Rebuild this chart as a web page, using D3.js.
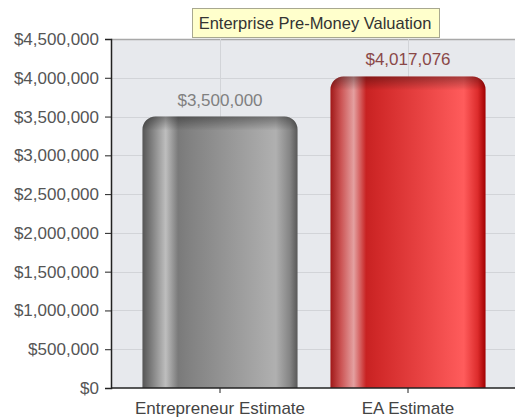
<!DOCTYPE html>
<html>
<head>
<meta charset="utf-8">
<script src="https://cdn.jsdelivr.net/npm/d3@7"></script>
<style>
  body { margin: 0; background: #fff; }
  svg text { font-family: "Liberation Sans", Arial, sans-serif; }
</style>
</head>
<body>
<div id="chart"></div>
<script>
var categories = ["Entrepreneur Estimate", "EA Estimate"];
var values = [3500000, 4017076];
var valueLabels = ["$3,500,000", "$4,017,076"];
var yTicks = [0, 500000, 1000000, 1500000, 2000000, 2500000, 3000000, 3500000, 4000000, 4500000];
var chartTitle = "Enterprise Pre-Money Valuation";

var W = 515, H = 420;
var margin = { top: 39, right: 0, bottom: 32, left: 111 };

var svg = d3.select("#chart").append("svg")
    .attr("width", W)
    .attr("height", H);

var y = d3.scaleLinear()
    .domain([0, 4500000])
    .range([H - margin.bottom, margin.top]);

var x = d3.scaleBand()
    .domain(categories)
    .range([126, 502])
    .paddingInner(0.175)
    .paddingOuter(0.0875);

var fmt = d3.format("$,");

// gradients for the glossy bars
var defs = svg.append("defs");
var gradStops = [
  [["0", "#555555"], ["0.07", "#868686"], ["0.15", "#bebebe"], ["0.23", "#7a7a7a"],
   ["0.32", "#838383"], ["0.86", "#b0b0b0"], ["0.95", "#858585"], ["1", "#585858"]],
  [["0", "#a01818"], ["0.07", "#cc5555"], ["0.15", "#e4a0a0"], ["0.23", "#c82222"],
   ["0.32", "#d22a2a"], ["0.86", "#ff5c5c"], ["0.95", "#dd2c2c"], ["1", "#a00000"]]
];
gradStops.forEach(function (stops, i) {
  var g = defs.append("linearGradient")
      .attr("id", "bar" + i)
      .attr("x1", "0").attr("x2", "1").attr("y1", "0").attr("y2", "0");
  stops.forEach(function (s) {
    g.append("stop").attr("offset", s[0]).attr("stop-color", s[1]);
  });
});
var shade = defs.append("linearGradient")
    .attr("id", "topShade")
    .attr("x1", "0").attr("x2", "0").attr("y1", "0").attr("y2", "1");
shade.append("stop").attr("offset", "0").attr("stop-color", "#000").attr("stop-opacity", 0.35);
shade.append("stop").attr("offset", "1").attr("stop-color", "#000").attr("stop-opacity", 0);

// plot background
svg.append("rect")
    .attr("x", margin.left)
    .attr("y", margin.top)
    .attr("width", W - margin.left)
    .attr("height", y(0) - margin.top)
    .attr("fill", "#e7e9ed");

// horizontal grid
svg.append("g")
  .selectAll("line")
  .data(yTicks.slice(1))
  .enter().append("line")
    .attr("x1", margin.left)
    .attr("x2", W)
    .attr("y1", function (d) { return Math.round(y(d)) + 0.5; })
    .attr("y2", function (d) { return Math.round(y(d)) + 0.5; })
    .attr("stroke", function (d) { return d == 4500000 ? "#a8a8a8" : "#d2d4d8"; })
    .attr("stroke-width", function (d) { return d == 4500000 ? 1.5 : 1; });

// vertical grid at categories
svg.append("g")
  .selectAll("line")
  .data(categories)
  .enter().append("line")
    .attr("x1", function (d) { return Math.round(x(d) + x.bandwidth() / 2) + 0.5; })
    .attr("x2", function (d) { return Math.round(x(d) + x.bandwidth() / 2) + 0.5; })
    .attr("y1", margin.top)
    .attr("y2", y(0))
    .attr("stroke", "#d2d4d8");

// bars with rounded tops
function barPath(x0, y0, w, y1, r) {
  var p = d3.path();
  p.moveTo(x0, y1);
  p.lineTo(x0, y0 + r);
  p.arcTo(x0, y0, x0 + r, y0, r);
  p.lineTo(x0 + w - r, y0);
  p.arcTo(x0 + w, y0, x0 + w, y0 + r, r);
  p.lineTo(x0 + w, y1);
  p.closePath();
  return p.toString();
}

var bars = svg.append("g").selectAll("g")
    .data(categories)
    .enter().append("g");

bars.append("path")
    .attr("d", function (d, i) { return barPath(x(d), y(values[i]), x.bandwidth(), y(0), 13); })
    .attr("fill", function (d, i) { return "url(#bar" + i + ")"; });

bars.append("path")
    .attr("d", function (d, i) { return barPath(x(d), y(values[i]), x.bandwidth(), y(values[i]) + 14, 13); })
    .attr("fill", "url(#topShade)");

// value labels
bars.append("text")
    .attr("x", function (d) { return x(d) + x.bandwidth() / 2; })
    .attr("y", function (d, i) { return y(values[i]) - 11; })
    .attr("text-anchor", "middle")
    .attr("font-size", "17px")
    .attr("fill", function (d, i) { return i == 0 ? "#808080" : "#8a4848"; })
    .text(function (d, i) { return valueLabels[i]; });

// y axis
var yAxis = svg.append("g")
    .attr("transform", "translate(" + margin.left + ",0)")
    .call(d3.axisLeft(y).tickValues(yTicks).tickFormat(fmt).tickSize(6).tickPadding(6));
yAxis.select(".domain").attr("stroke", "#222").attr("stroke-width", 1.5);
yAxis.selectAll(".tick line").attr("stroke", "#222");
yAxis.selectAll(".tick text")
    .attr("font-size", "17px")
    .attr("fill", "#555")
    .style("font-family", "'Liberation Sans', Arial, sans-serif");

// x axis
var xAxis = svg.append("g")
    .attr("transform", "translate(0," + y(0) + ")")
    .call(d3.axisBottom(x).tickSize(5).tickPadding(9).tickSizeOuter(0));
xAxis.select(".domain").attr("d", "M" + margin.left + ",0H" + W).attr("stroke", "#222").attr("stroke-width", 1.5);
xAxis.selectAll(".tick line").attr("stroke", "#222");
xAxis.selectAll(".tick text")
    .attr("font-size", "17px")
    .attr("fill", "#444")
    .style("font-family", "'Liberation Sans', Arial, sans-serif");

// title box
var title = svg.append("g");
var tText = title.append("text")
    .attr("x", 315)
    .attr("y", 29)
    .attr("text-anchor", "middle")
    .attr("font-size", "16.5px")
    .attr("fill", "#333")
    .text(chartTitle);
var bb = tText.node().getBBox();
title.insert("rect", "text")
    .attr("x", Math.round(bb.x - 7) + 0.5)
    .attr("y", 8.5)
    .attr("width", Math.round(bb.width + 14))
    .attr("height", 29)
    .attr("fill", "#ffffcc")
    .attr("stroke", "#a8a890");
</script>
</body>
</html>
